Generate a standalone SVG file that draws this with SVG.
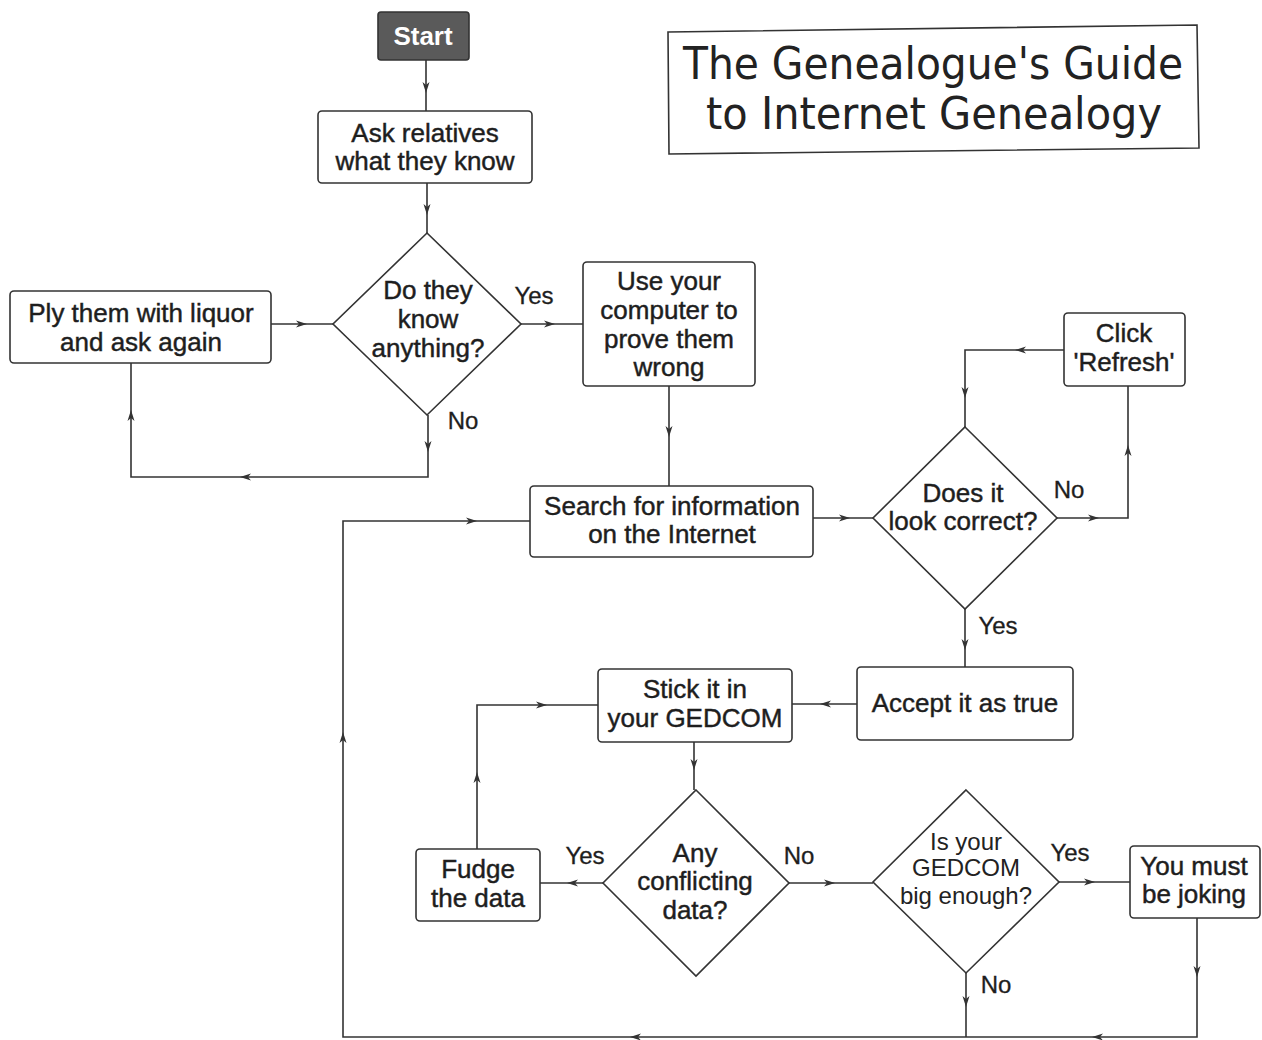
<svg xmlns="http://www.w3.org/2000/svg" xmlns:xlink="http://www.w3.org/1999/xlink" width="1262" height="1040" viewBox="0 0 1262 1040">
<style>
.box{fill:#fff;stroke:#333;stroke-width:1.6}
.dia{fill:#fff;stroke:#333;stroke-width:1.6}
.t{font-family:"Liberation Sans",Arial,sans-serif;font-size:26px;fill:#1e1e1e;stroke:#1e1e1e;stroke-width:0.45;text-anchor:middle}
.tl{font-family:"Liberation Sans",Arial,sans-serif;font-size:24px;fill:#222;text-anchor:middle}
.lbl{font-family:"Liberation Sans",Arial,sans-serif;font-size:24px;fill:#1e1e1e;stroke:#1e1e1e;stroke-width:0.3;text-anchor:middle}
.conn path{fill:none;stroke:#333;stroke-width:1.6}
.title{font-family:"DejaVu Sans","Open Sans",sans-serif;font-size:44px;fill:#222;text-anchor:middle}
</style>
<defs>
<path id="ah" d="M-6,-3.5 L5,0 L-6,3.5 L-3,0 Z" fill="#333"/>
</defs>
<rect width="1262" height="1040" fill="#fff"/>

<g id="title">
<polygon points="668,32 1197,25 1199,148 669,154" fill="#fff" stroke="#333" stroke-width="1.6"/>
<text class="title" x="933" y="79" textLength="500" lengthAdjust="spacingAndGlyphs">The Genealogue's Guide</text>
<text class="title" x="934" y="129" textLength="456" lengthAdjust="spacingAndGlyphs">to Internet Genealogy</text>
</g>

<g id="start">
<rect x="378" y="12" width="91" height="48" rx="3" fill="#5a5a5a" stroke="#333" stroke-width="1.6"/>
<text x="423" y="45" font-family="Liberation Sans,Arial,sans-serif" font-size="26" font-weight="bold" fill="#fff" text-anchor="middle">Start</text>
</g>

<g id="ask">
<rect class="box" x="318" y="111" width="214" height="72" rx="4"/>
<text class="t" x="425" y="142">Ask relatives</text>
<text class="t" x="425" y="170">what they know</text>
</g>

<g id="know">
<polygon class="dia" points="427,233 521,324 427,415 333,324"/>
<text class="t" x="428" y="299">Do they</text>
<text class="t" x="428" y="328">know</text>
<text class="t" x="428" y="357">anything?</text>
</g>

<g id="ply">
<rect class="box" x="10" y="291" width="261" height="72" rx="4"/>
<text class="t" x="141" y="322">Ply them with liquor</text>
<text class="t" x="141" y="351">and ask again</text>
</g>

<g id="use">
<rect class="box" x="583" y="262" width="172" height="124" rx="4"/>
<text class="t" x="669" y="290">Use your</text>
<text class="t" x="669" y="319">computer to</text>
<text class="t" x="669" y="348">prove them</text>
<text class="t" x="669" y="376">wrong</text>
</g>

<g id="search">
<rect class="box" x="530" y="486" width="283" height="71" rx="4"/>
<text class="t" x="672" y="515">Search for information</text>
<text class="t" x="672" y="543">on the Internet</text>
</g>

<g id="correct">
<polygon class="dia" points="965,427 1057,518 965,609 873,518"/>
<text class="t" x="963" y="502">Does it</text>
<text class="t" x="963" y="530">look correct?</text>
</g>

<g id="refresh">
<rect class="box" x="1064" y="313" width="121" height="73" rx="4"/>
<text class="t" x="1124" y="342">Click</text>
<text class="t" x="1124" y="371">'Refresh'</text>
</g>

<g id="accept">
<rect class="box" x="857" y="667" width="216" height="73" rx="4"/>
<text class="t" x="965" y="712">Accept it as true</text>
</g>

<g id="stick">
<rect class="box" x="598" y="669" width="194" height="73" rx="4"/>
<text class="t" x="695" y="698">Stick it in</text>
<text class="t" x="695" y="727">your GEDCOM</text>
</g>

<g id="conflict">
<polygon class="dia" points="696,790 789,883 696,976 603,883"/>
<text class="t" x="695" y="862">Any</text>
<text class="t" x="695" y="890">conflicting</text>
<text class="t" x="695" y="919">data?</text>
</g>

<g id="fudge">
<rect class="box" x="416" y="849" width="124" height="72" rx="4"/>
<text class="t" x="478" y="878">Fudge</text>
<text class="t" x="478" y="907">the data</text>
</g>

<g id="big">
<polygon class="dia" points="966,790 1059,882 966,973 873,882"/>
<text class="tl" x="966" y="850">Is your</text>
<text class="tl" x="966" y="876">GEDCOM</text>
<text class="tl" x="966" y="904">big enough?</text>
</g>

<g id="joking">
<rect class="box" x="1130" y="846" width="130" height="72" rx="4"/>
<text class="t" x="1194" y="875">You must</text>
<text class="t" x="1194" y="903">be joking</text>
</g>

<g id="labels">
<text class="lbl" x="534" y="304">Yes</text>
<text class="lbl" x="463" y="429">No</text>
<text class="lbl" x="1069" y="498">No</text>
<text class="lbl" x="998" y="634">Yes</text>
<text class="lbl" x="585" y="864">Yes</text>
<text class="lbl" x="799" y="864">No</text>
<text class="lbl" x="1070" y="861">Yes</text>
<text class="lbl" x="996" y="993">No</text>
</g>

<g id="connectors" class="conn">
<path d="M426,60 V111"/>
<path d="M427,183 V233"/>
<path d="M521,324 H583"/>
<path d="M271,324 H333"/>
<path d="M428,415 V477 H131 V363"/>
<path d="M669,386 V486"/>
<path d="M813,518 H873"/>
<path d="M1057,518 H1128 V386"/>
<path d="M1064,350 H965 V427"/>
<path d="M965,609 V667"/>
<path d="M857,704 H792"/>
<path d="M694,742 V790"/>
<path d="M603,883 H540"/>
<path d="M477,849 V705 H598"/>
<path d="M789,883 H873"/>
<path d="M1059,882 H1130"/>
<path d="M1197,918 V1037 H343 V521 H530"/>
<path d="M966,973 V1037"/>
<use xlink:href="#ah" transform="translate(426,88) rotate(90)"/>
<use xlink:href="#ah" transform="translate(427,210) rotate(90)"/>
<use xlink:href="#ah" transform="translate(550,324)"/>
<use xlink:href="#ah" transform="translate(302,324)"/>
<use xlink:href="#ah" transform="translate(428,447) rotate(90)"/>
<use xlink:href="#ah" transform="translate(245,477) rotate(180)"/>
<use xlink:href="#ah" transform="translate(131,415) rotate(-90)"/>
<use xlink:href="#ah" transform="translate(669,432) rotate(90)"/>
<use xlink:href="#ah" transform="translate(845,518)"/>
<use xlink:href="#ah" transform="translate(1094,518)"/>
<use xlink:href="#ah" transform="translate(1128,450) rotate(-90)"/>
<use xlink:href="#ah" transform="translate(1020,350) rotate(180)"/>
<use xlink:href="#ah" transform="translate(965,393) rotate(90)"/>
<use xlink:href="#ah" transform="translate(965,645) rotate(90)"/>
<use xlink:href="#ah" transform="translate(825,704) rotate(180)"/>
<use xlink:href="#ah" transform="translate(694,765) rotate(90)"/>
<use xlink:href="#ah" transform="translate(572,883) rotate(180)"/>
<use xlink:href="#ah" transform="translate(477,777) rotate(-90)"/>
<use xlink:href="#ah" transform="translate(542,705)"/>
<use xlink:href="#ah" transform="translate(830,883)"/>
<use xlink:href="#ah" transform="translate(1090,882)"/>
<use xlink:href="#ah" transform="translate(1197,972) rotate(90)"/>
<use xlink:href="#ah" transform="translate(1097,1037) rotate(180)"/>
<use xlink:href="#ah" transform="translate(635,1037) rotate(180)"/>
<use xlink:href="#ah" transform="translate(343,737) rotate(-90)"/>
<use xlink:href="#ah" transform="translate(472,521)"/>
<use xlink:href="#ah" transform="translate(966,1002) rotate(90)"/>
</g>
</svg>
